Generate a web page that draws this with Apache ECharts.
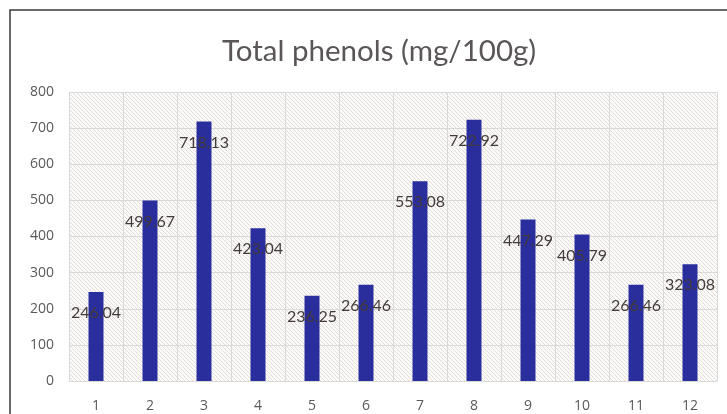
<!DOCTYPE html>
<html>
<head>
<meta charset="utf-8">
<script src="https://cdn.jsdelivr.net/npm/echarts@6/dist/echarts.min.js"></script>
<style>
html,body{margin:0;padding:0;background:#fff;}
#chart{width:727px;height:414px;}
</style>
</head>
<body>
<div id="chart"></div>
<script>
const categories = ['1','2','3','4','5','6','7','8','9','10','11','12'];
const values = [246.04, 499.67, 718.13, 423.04, 236.25, 266.46, 553.08, 722.92, 447.29, 405.79, 266.46, 323.08];
const labels = ['246.04','499.67','718.13','423.04','236.25','266.46','553.08','722.92','447.29','405.79','266.46','323.08'];
const yTicks = [0, 100, 200, 300, 400, 500, 600, 700, 800];

// hatch pattern
const pc = document.createElement('canvas');
pc.width = 4; pc.height = 4;
const pctx = pc.getContext('2d');
pctx.fillStyle = '#fbfaf9';
pctx.fillRect(0,0,4,4);
pctx.strokeStyle = '#e0dddb';
pctx.lineWidth = 1;
pctx.beginPath();
pctx.moveTo(-1,-1); pctx.lineTo(5,5);
pctx.moveTo(-1,3); pctx.lineTo(1,5);
pctx.moveTo(3,-1); pctx.lineTo(5,1);
pctx.stroke();

const chart = echarts.init(document.getElementById('chart'), null, {renderer:'canvas'});
chart.setOption({
  backgroundColor: '#ffffff',
  animation: false,
  title: {
    text: 'Total phenols (mg/100g)',
    left: 217, top: 31,
    textStyle: {fontFamily: 'Lato', fontSize: 29.5, fontWeight: 'normal', color: '#5a5657'}
  },
  graphic: [{
    type: 'polyline',
    shape: {points: [[10, 414], [10, 10], [727, 10]]},
    style: {stroke: '#3a3a3a', lineWidth: 1.5, fill: null},
    silent: true
  }],
  grid: {
    left: 69, right: 10, top: 92, bottom: 33,
    show: true,
    backgroundColor: {image: pc, repeat: 'repeat'},
    borderWidth: 0
  },
  xAxis: {
    type: 'category',
    data: categories,
    axisLine: {show: true, lineStyle: {color: '#d9d9d9'}},
    axisTick: {show: false},
    axisLabel: {fontFamily: 'Open Sans', fontSize: 14, color: '#595959', margin: 18},
    splitLine: {show: true, interval: 0, lineStyle: {color: '#d9d9d9', width: 1}}
  },
  yAxis: {
    type: 'value',
    min: yTicks[0], max: yTicks[yTicks.length-1], interval: 100,
    axisLine: {show: false},
    axisTick: {show: false},
    axisLabel: {fontFamily: 'Open Sans', fontSize: 14, color: '#595959', margin: 15},
    splitLine: {show: true, lineStyle: {color: '#d9d9d9', width: 1}}
  },
  series: [{
    type: 'bar',
    data: values,
    barWidth: 15,
    itemStyle: {color: '#2a2e9c'},
    label: {
      show: true,
      position: 'insideTop',
      distance: 13,
      formatter: p => labels[p.dataIndex],
      fontFamily: 'Lato', fontSize: 16, color: '#433b39'
    }
  }]
});
</script>
</body>
</html>
